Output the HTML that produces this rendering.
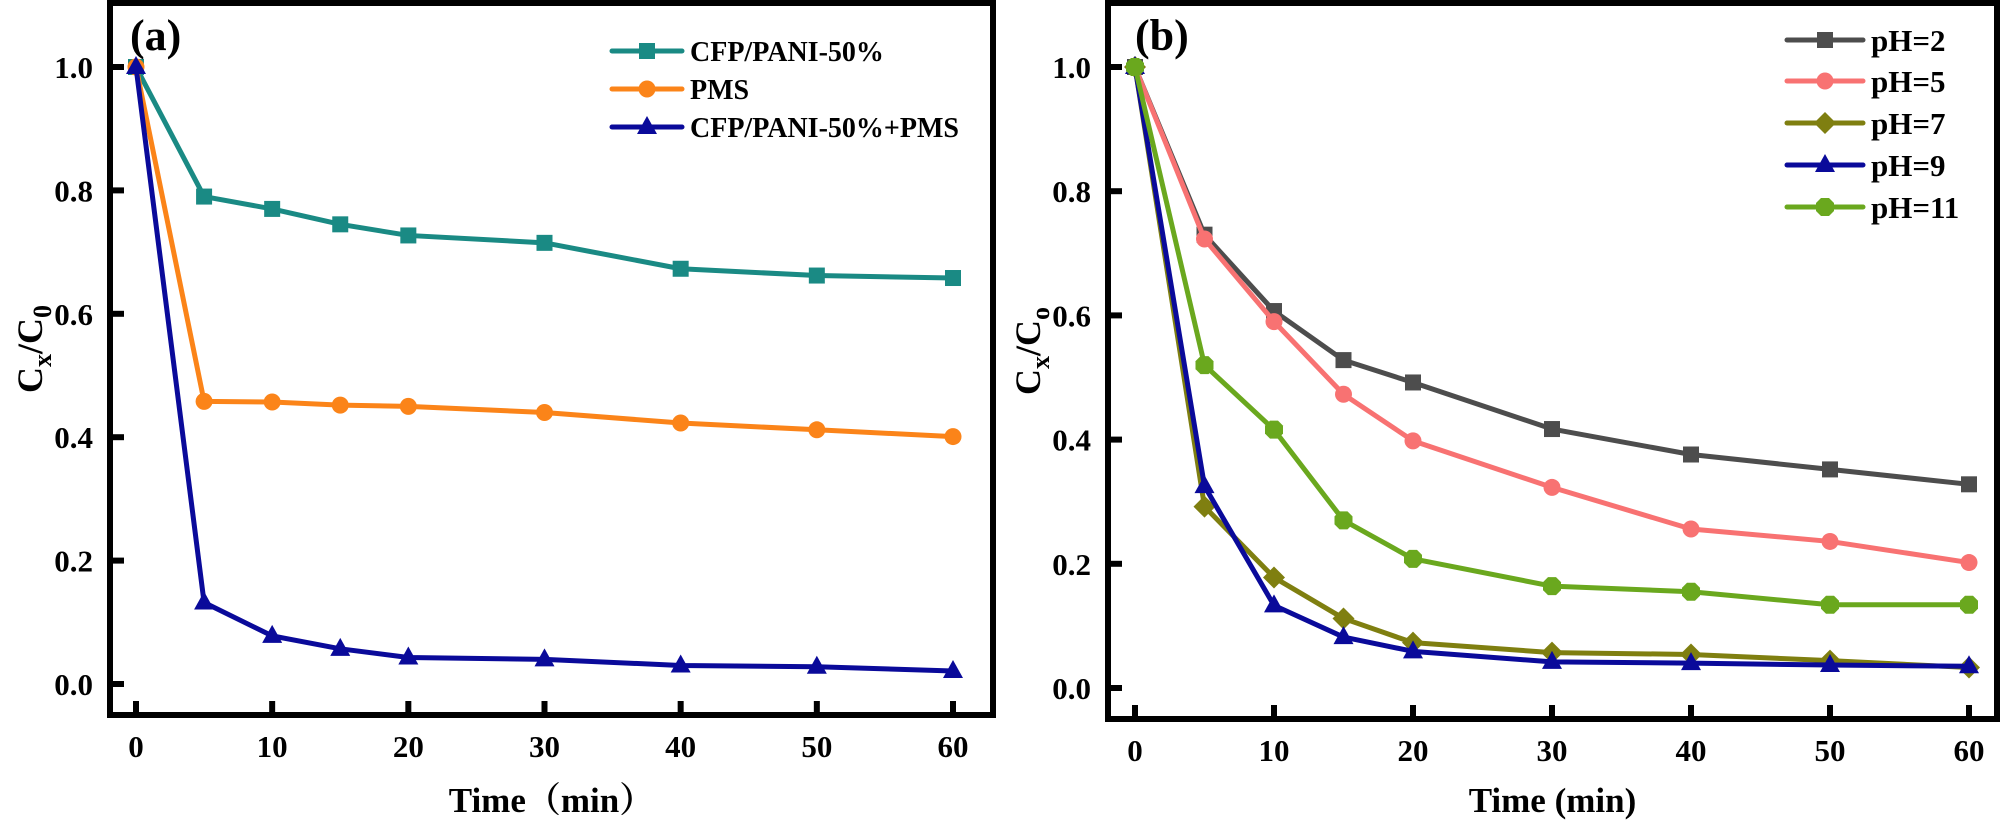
<!DOCTYPE html>
<html><head><meta charset="utf-8">
<style>
html,body{margin:0;padding:0;background:#fff;}
svg{display:block;font-family:"Liberation Serif","Noto Serif CJK SC",serif;font-weight:bold;}
</style></head>
<body>
<svg id="chart" width="2000" height="829" viewBox="0 0 2000 829" xmlns="http://www.w3.org/2000/svg"></svg>
<script>
const times = [0,5,10,15,20,30,40,50,60];
const xTicks = [0,10,20,30,40,50,60];
const yTicks = [0.0,0.2,0.4,0.6,0.8,1.0];
const seriesA1 = [1.0,0.79,0.77,0.745,0.727,0.715,0.673,0.662,0.658];
const seriesA2 = [1.0,0.458,0.457,0.452,0.45,0.44,0.423,0.412,0.401];
const seriesA3 = [1.0,0.132,0.078,0.057,0.043,0.040,0.030,0.028,0.021];
const namesA = ["CFP/PANI-50%","PMS","CFP/PANI-50%+PMS"];
const seriesPH2 = [1.0,0.73,0.607,0.528,0.492,0.417,0.376,0.352,0.328];
const seriesPH5 = [1.0,0.723,0.59,0.473,0.398,0.323,0.256,0.236,0.202];
const seriesPH7 = [1.0,0.292,0.178,0.112,0.073,0.057,0.054,0.044,0.033];
const seriesPH9 = [1.0,0.325,0.133,0.082,0.059,0.042,0.040,0.037,0.035];
const seriesPH11 = [1.0,0.52,0.416,0.27,0.208,0.164,0.155,0.134,0.134];
const namesB = ["pH=2","pH=5","pH=7","pH=9","pH=11"];

const NS="http://www.w3.org/2000/svg";
const svg=document.getElementById('chart');
function mk(tag,attrs,parent){const e=document.createElementNS(NS,tag);for(const k in attrs)e.setAttribute(k,attrs[k]);(parent||svg).appendChild(e);return e;}

function marker(g,shape,x,y,c){
  let m;
  if(shape==='sq') m=mk('rect',{x:x-8,y:y-8,width:16,height:16,fill:c},g);
  else if(shape==='ci') m=mk('circle',{cx:x,cy:y,r:8.5,fill:c},g);
  else if(shape==='tri') m=mk('polygon',{points:`${x},${y-11} ${x-10},${y+7} ${x+10},${y+7}`,fill:c},g);
  else if(shape==='dia') m=mk('polygon',{points:`${x},${y-11} ${x+11},${y} ${x},${y+11} ${x-11},${y}`,fill:c},g);
  else if(shape==='hex') m=mk('polygon',{points:`${x-9},${y-4} ${x-4},${y-9} ${x+4},${y-9} ${x+9},${y-4} ${x+9},${y+4} ${x+4},${y+9} ${x-4},${y+9} ${x-9},${y+4}`,fill:c},g);
  return m;
}

function panel(cfg){
  const {L,R,T,B,x0,x60,y0,y1}=cfg;
  const sx=v=>x0+(x60-x0)*v/60;
  const sy=v=>y0+(y1-y0)*v;
  const g=mk('g',{});
  
  
  mk('rect',{x:L,y:T,width:R-L,height:B-T,fill:'none',stroke:'#000','stroke-width':6},g);
  xTicks.forEach(t=>{
    const tk=mk('line',{x1:sx(t),x2:sx(t),y1:B,y2:B-14,stroke:'#000','stroke-width':6},g);
    
    const tl=mk('text',{x:sx(t),y:B+42,'text-anchor':'middle','font-size':31},g);
    tl.textContent=t;
    
    
  });
  yTicks.forEach(t=>{
    mk('line',{x1:L,x2:L+14,y1:sy(t),y2:sy(t),stroke:'#000','stroke-width':6},g);
    const tl=mk('text',{x:L-17,y:sy(t)+11,'text-anchor':'end','font-size':31},g);
    tl.textContent=t.toFixed(1);
    
    
  });
  cfg.series.forEach((s,i)=>{
    const sg=mk('g',{},g);
    
    
    const pts=s.data.map((v,j)=>sx(times[j])+','+sy(v)).join(' ');
    mk('polyline',{points:pts,fill:'none',stroke:s.c,'stroke-width':5,'stroke-linejoin':'round'},sg);
    s.data.forEach((v,j)=>{const m=marker(sg,s.shape,sx(times[j]),sy(v),s.c);});
    // legend
    const ly=cfg.legY[i];
    const lg=mk('g',{},g);
    
    
    mk('line',{x1:cfg.legX,x2:cfg.legX+cfg.legW,y1:ly,y2:ly,stroke:s.c,'stroke-width':5,'stroke-linecap':'round'},lg);
    marker(lg,s.shape,cfg.legX+cfg.legW/2,ly,s.c);
    const lt=mk('text',{x:cfg.legX+cfg.legW+8,y:ly+cfg.legFs*0.35,'font-size':cfg.legFs},lg);
    lt.textContent=s.name;
  });
  const pl=mk('text',{x:cfg.labX,y:50,'font-size':44},g);
  pl.textContent=cfg.label;
  
  
  const xt=mk('text',{x:(L+R)/2,y:812,'text-anchor':'middle','font-size':35},g);
  xt.textContent=cfg.xTitle;
  
  
  const yt=mk('text',{x:0,y:0,'text-anchor':'middle','font-size':36,transform:`translate(${cfg.ytX},${(T+B)/2-10}) rotate(-90)`},g);
  yt.innerHTML='C<tspan font-size="26" dy="9">'+cfg.ysub1+'</tspan><tspan dy="-9">/C</tspan><tspan font-size="26" dy="9">'+cfg.ysub2+'</tspan>';
  
  
}

panel({id:'panel-a',L:110,R:993,T:3,B:715,x0:136,x60:953,y0:684,y1:67,
  series:[
    {key:'cfp-pani',name:namesA[0],data:seriesA1,c:'#1a8a84',shape:'sq'},
    {key:'pms',name:namesA[1],data:seriesA2,c:'#fb8419',shape:'ci'},
    {key:'cfp-pani-pms',name:namesA[2],data:seriesA3,c:'#0a0a9a',shape:'tri'}],
  legX:612,legW:70,legY:[51,89,127],legFs:28,label:'(a)',labX:130,
  xTitle:'Time（min）',ytX:42,ysub1:'x',ysub2:'0'});
panel({id:'panel-b',L:1108,R:1997,T:3,B:719,x0:1135,x60:1969,y0:688,y1:67,
  series:[
    {key:'ph2',name:namesB[0],data:seriesPH2,c:'#4d4d4d',shape:'sq'},
    {key:'ph5',name:namesB[1],data:seriesPH5,c:'#f87272',shape:'ci'},
    {key:'ph7',name:namesB[2],data:seriesPH7,c:'#7f7f10',shape:'dia'},
    {key:'ph9',name:namesB[3],data:seriesPH9,c:'#0a0a9a',shape:'tri'},
    {key:'ph11',name:namesB[4],data:seriesPH11,c:'#6aa81e',shape:'hex'}],
  legX:1787,legW:76,legY:[40,81,123,165,207],legFs:31,label:'(b)',labX:1135,
  xTitle:'Time (min)',ytX:1040,ysub1:'x',ysub2:'o'});
</script>
</body></html>
